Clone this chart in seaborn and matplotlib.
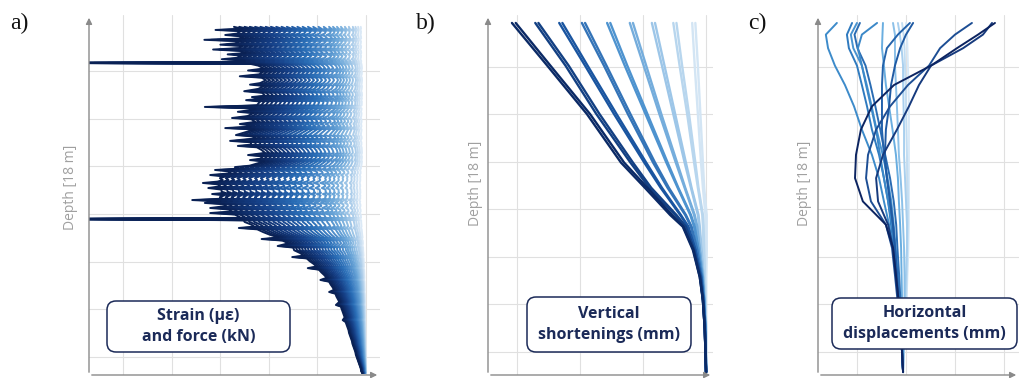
import numpy as np
import pandas as pd
import matplotlib
matplotlib.use('Agg')
import matplotlib.pyplot as plt
import seaborn as sns
from matplotlib.patches import FancyBboxPatch
from matplotlib.transforms import IdentityTransform

sns.set_style('white')
plt.rcParams['font.family'] = ['Open Sans', 'DejaVu Sans']

W, H = 1019, 378

# ---------------- a) strain profiles (ue) ----------------
# fibre readings at the highest load step: depth (m) and strain (ue)
strain_depth = [
    0.20, 0.30, 0.36, 0.42, 0.55, 0.62, 0.68, 0.80, 0.87, 0.94, 1.05, 1.12, 1.19, 1.30, 1.37,
    1.44, 1.55, 1.62, 1.69, 1.80, 1.87, 1.94, 2.02, 2.06, 2.10,
    2.20, 2.35, 2.45, 2.52, 2.65, 2.75, 2.82, 2.95, 3.10, 3.18, 3.25, 3.40, 3.52, 3.60, 3.75,
    3.82, 3.90, 3.98, 4.05, 4.25, 4.33, 4.41,
    4.50, 4.58, 4.65, 4.80, 4.90, 4.97, 5.10, 5.21, 5.28, 5.35, 5.42, 5.49, 5.60, 5.78, 5.85,
    5.95, 6.08, 6.15, 6.27, 6.34, 6.41,
    6.55, 6.70, 6.81, 6.88, 7.00, 7.07, 7.14, 7.25,
    7.36, 7.43, 7.51, 7.58, 7.65, 7.75, 7.84, 7.92, 8.00, 8.10, 8.18, 8.25, 8.32, 8.42, 8.51,
    8.59, 8.70, 8.76, 8.82, 8.89, 8.98, 9.06, 9.13, 9.20, 9.28, 9.35, 9.44, 9.54, 9.62, 9.72,
    9.80, 9.88, 9.96, 10.05, 10.11, 10.17,
    10.26, 10.40, 10.50, 10.57, 10.64, 10.78, 10.92, 11.06, 11.14, 11.22, 11.36, 11.50, 11.58,
    11.72, 11.86, 12.00, 12.07, 12.14, 12.28, 12.42, 12.56, 12.64, 12.72, 12.86, 13.00, 13.14,
    13.25, 13.34, 13.48, 13.62, 13.76, 13.87, 13.96, 14.10, 14.24, 14.38, 14.54, 14.62, 14.76,
    14.90, 15.04, 15.18, 15.32, 15.42, 15.56, 15.70, 15.84, 15.98, 16.12, 16.26, 16.40, 16.54,
    16.68, 16.82, 16.96, 17.10, 17.24, 17.38, 17.52, 17.66, 17.80, 17.94, 18.05,
]
strain_max = [
    -272, -255, -310, -258, -266, -290, -262, -250, -333, -258, -270, -300, -255, -262, -315,
    -260, -248, -285, -256, -266, -297, -250, -250, -700, -240,
    -222, -210, -243, -212, -220, -260, -215, -206, -218, -239, -210, -222, -251, -214, -208,
    -235, -212, -247, -218, -225, -332, -228,
    -240, -264, -232, -244, -276, -236, -228, -260, -240, -238, -290, -230, -244, -268, -234,
    -226, -280, -238, -236, -264, -225,
    -215, -208, -243, -212, -218, -239, -210, -225,
    -240, -270, -262, -311, -284, -278, -321, -290, -301, -295, -306, -336, -305, -300, -325,
    -298, -297, -290, -317, -292, -301, -296, -358, -300, -332, -292, -288, -321, -282, -276,
    -321, -270, -264, -258, -700, -252,
    -250, -236, -230, -262, -224, -212, -198, -180, -215, -172, -160, -182, -150,
    -148, -136, -128, -152, -122, -116, -108, -102, -120, -97, -92, -86, -81,
    -94, -76, -73, -69, -66, -76, -63, -61, -58, -55, -62, -52, -50,
    -48, -46, -44, -48, -42, -40, -38, -36, -35, -33, -31, -29, -28,
    -26, -24, -22, -21, -19, -17, -15, -13, -11, -10, -8,
]
# load step of each profile relative to the highest one
load_ratio = [1.0, 0.96, 0.92, 0.88, 0.84, 0.80, 0.76, 0.72, 0.68, 0.64, 0.60, 0.56,
              0.52, 0.48, 0.44, 0.40, 0.36, 0.32, 0.28, 0.25, 0.22, 0.19, 0.16, 0.13,
              0.10, 0.08, 0.06, 0.04]

# ---------------- b) vertical shortenings ----------------
short_depth = [0, 2.2, 4.7, 7.2, 8.5, 9.9, 10.5, 11.7, 13.1, 14.3, 15.8, 18.0]
short_lines = [
    [-30.8, -25.2, -18.9, -13.5, -9.7, -5.7, -3.7, -2.1, -1.0, -0.5, -0.2, 0.0],
    [-30.2, -24.7, -18.4, -13.0, -9.3, -5.4, -3.6, -2.0, -1.0, -0.5, -0.2, 0.0],
    [-27.1, -22.3, -17.4, -12.0, -9.0, -4.9, -3.3, -1.9, -0.9, -0.5, -0.2, 0.0],
    [-26.6, -21.8, -16.9, -11.6, -8.7, -4.7, -3.2, -1.9, -0.9, -0.5, -0.2, 0.0],
    [-23.3, -19.2, -14.6, -9.8, -7.2, -4.1, -2.9, -1.7, -0.8, -0.4, -0.2, 0.0],
    [-22.8, -18.8, -14.2, -9.5, -7.0, -4.0, -2.8, -1.7, -0.8, -0.4, -0.2, 0.0],
    [-19.7, -16.2, -12.4, -8.4, -6.1, -3.3, -2.4, -1.5, -0.7, -0.4, -0.1, 0.0],
    [-19.2, -15.8, -12.0, -8.1, -5.9, -3.2, -2.3, -1.4, -0.7, -0.4, -0.1, 0.0],
    [-15.7, -12.9, -9.6, -6.3, -4.5, -2.5, -1.9, -1.2, -0.6, -0.3, -0.1, 0.0],
    [-15.2, -12.5, -9.3, -6.1, -4.4, -2.4, -1.8, -1.2, -0.6, -0.3, -0.1, 0.0],
    [-12.1, -9.9, -7.4, -4.8, -3.4, -1.9, -1.5, -1.0, -0.5, -0.3, -0.1, 0.0],
    [-11.6, -9.5, -7.1, -4.6, -3.3, -1.8, -1.4, -1.0, -0.5, -0.3, -0.1, 0.0],
    [-8.6, -7.0, -5.2, -3.4, -2.4, -1.3, -1.1, -0.8, -0.4, -0.2, -0.1, 0.0],
    [-8.1, -6.6, -4.9, -3.2, -2.3, -1.2, -1.0, -0.7, -0.4, -0.2, -0.1, 0.0],
    [-5.2, -4.2, -3.0, -1.9, -1.3, -0.6, -0.5, -0.4, -0.2, -0.1, 0.0, 0.0],
    [-4.7, -3.8, -2.7, -1.7, -1.2, -0.5, -0.4, -0.3, -0.2, -0.1, 0.0, 0.0],
    [-2.2, -1.8, -1.3, -0.8, -0.5, -0.1, -0.1, 0.0, 0.0, 0.0, 0.0, 0.0],
    [-1.7, -1.3, -0.9, -0.5, -0.3, 0.1, 0.1, 0.1, 0.0, 0.0, 0.0, 0.0],
]

# ---------------- c) horizontal displacements ----------------
disp_depth = [0, 0.6, 1.3, 2.2, 3.2, 4.3, 5.5, 6.8, 8.0, 9.2, 10.4, 11.6, 13.0, 14.5, 16.0, 18.0]
disp_lines = {
    'L5': [0.0, 0.04, 0.06, 0.08, 0.10, 0.12, 0.12, 0.12, 0.12, 0.12, 0.12, 0.10, 0.06, 0.02, -0.04, -0.12],
    'L4': [-0.16, -0.10, -0.06, -0.04, -0.02, 0.0, 0.02, 0.04, 0.06, 0.08, 0.08, 0.06, 0.04, 0.0, -0.06, -0.12],
    'L3': [-0.33, -0.25, -0.18, -0.12, -0.12, -0.10, -0.08, -0.08, -0.04, 0.0, 0.04, 0.04, 0.0, -0.04, -0.08, -0.12],
    'L2': [-0.53, -0.45, -0.45, -0.45, -0.41, -0.37, -0.33, -0.29, -0.22, -0.16, -0.12, -0.08, -0.06, -0.06, -0.08, -0.12],
    'L1': [-0.94, -0.96, -0.98, -0.90, -0.82, -0.69, -0.55, -0.41, -0.33, -0.29, -0.24, -0.20, -0.18, -0.16, -0.14, -0.12],
    'M1': [-2.82, -3.27, -3.18, -2.90, -2.49, -2.12, -1.80, -1.39, -1.10, -0.90, -0.69, -0.53, -0.41, -0.29, -0.20, -0.12],
    'M2': [-2.20, -2.41, -2.33, -2.00, -1.80, -1.59, -1.39, -1.10, -0.90, -0.73, -0.61, -0.49, -0.37, -0.29, -0.20, -0.12],
    'M3': [-2.00, -2.25, -2.15, -1.80, -1.60, -1.40, -1.20, -0.95, -0.75, -0.60, -0.50, -0.42, -0.33, -0.25, -0.18, -0.12],
    'M4': [-1.88, -2.10, -1.98, -1.65, -1.45, -1.25, -1.05, -0.85, -0.65, -0.50, -0.40, -0.35, -0.28, -0.22, -0.16, -0.12],
    'M5': [-1.18, -1.80, -1.96, -1.80, -1.63, -1.43, -1.22, -1.06, -0.90, -0.73, -0.57, -0.45, -0.37, -0.29, -0.20, -0.12],
    'M6': [0.16, -0.33, -0.78, -0.94, -0.98, -0.98, -0.98, -0.90, -0.78, -0.65, -0.53, -0.45, -0.37, -0.29, -0.20, -0.12],
    'M7': [0.29, 0.0, -0.24, -0.45, -0.61, -0.69, -0.82, -0.86, -0.78, -0.65, -0.53, -0.45, -0.37, -0.29, -0.20, -0.12],
    'D3': [2.69, 2.00, 1.39, 0.94, 0.08, -0.65, -1.22, -1.55, -1.63, -1.43, -0.82, -0.57, -0.45, -0.33, -0.20, -0.12],
    'D2': [3.51, 3.14, 2.33, 1.02, 0.53, 0.12, -0.37, -0.94, -1.22, -1.14, -0.73, -0.53, -0.41, -0.29, -0.20, -0.12],
    'D1': [3.63, 2.94, 2.08, 1.02, -0.49, -1.39, -1.84, -2.04, -2.08, -1.76, -0.82, -0.53, -0.41, -0.29, -0.20, -0.12],
}
disp_colors = ['#d8e9f7', '#c2ddf2', '#a8cfee', '#8bc0e8', '#6aaee0', '#3d8bca', '#2f7abf',
               '#4893d0', '#2a6cb3', '#3b88c8', '#2463ab', '#1f5aa3', '#1d4e94', '#163a7d', '#0c2461']

# ---------------- long tables ----------------
rows = []
for k, r in enumerate(load_ratio):
    for d, v in zip(strain_depth, strain_max):
        rows.append((f's{k}', d, v * r))
df_a = pd.DataFrame(rows, columns=['line', 'depth', 'value'])
order_a = [f's{k}' for k in range(len(load_ratio))][::-1]
pal_a = sns.blend_palette(['#0a2154', '#153f86', '#2b6fb8', '#6fa9da', '#dbe9f6'], len(load_ratio))[::-1]

rows = []
for k, vals in enumerate(short_lines):
    for d, v in zip(short_depth, vals):
        rows.append((f'b{k}', d, v))
df_b = pd.DataFrame(rows, columns=['line', 'depth', 'value'])
order_b = [f'b{k}' for k in range(len(short_lines))][::-1]
pair_cols = sns.blend_palette(['#0b2a66', '#1a55a0', '#4d93cf', '#9cc6e8', '#d3e5f4'], len(short_lines) // 2)
pal_b = [pair_cols[k // 2] for k in range(len(short_lines))][::-1]

rows = []
for name, vals in disp_lines.items():
    for d, v in zip(disp_depth, vals):
        rows.append((name, d, v))
df_c = pd.DataFrame(rows, columns=['line', 'depth', 'value'])
order_c = list(disp_lines.keys())

# ---------------- figure ----------------
fig = plt.figure(figsize=(W / 100, H / 100), dpi=100)


def make_axes(left_px, right_px, xlim, gx, gy):
    ax = fig.add_axes([left_px / W, 3 / H, (right_px - left_px) / W, 360 / H])
    ax.set_xlim(*xlim)
    ax.set_ylim(18.15, -0.41)
    ax.set_xticks(gx)
    ax.set_yticks(gy)
    ax.grid(True, color='#e0e0e0', lw=0.8)
    ax.tick_params(length=0, labelbottom=False, labelleft=False)
    for s in ax.spines.values():
        s.set_visible(False)
    arrow = dict(arrowstyle='-|>', color='#8a8a8a', lw=1, mutation_scale=9)
    ax.annotate('', xy=(0, 1), xytext=(0, 0), xycoords='axes fraction',
                arrowprops=arrow, annotation_clip=False)
    ax.annotate('', xy=(1, 0), xytext=(0, 0), xycoords='axes fraction',
                arrowprops=arrow, annotation_clip=False)
    return ax


ax_a = make_axes(89, 380, (-570.6, 28.8), [-500, -400, -300, -200, -100, 0],
                 [2.5, 4.95, 7.4, 9.85, 12.3, 14.75, 17.2])
sns.lineplot(data=df_a, x='value', y='depth', hue='line', hue_order=order_a, palette=pal_a,
             sort=False, estimator=None, legend=False, lw=1.4, ax=ax_a)

ax_b = make_axes(488, 713, (-34.6, 1.1), [-30, -20, -10, 0],
                 [2.25, 4.7, 7.15, 9.6, 12.05, 14.5, 16.95])
sns.lineplot(data=df_b, x='value', y='depth', hue='line', hue_order=order_b, palette=pal_b,
             sort=False, estimator=None, legend=False, lw=1.7, ax=ax_b)

ax_c = make_axes(818, 1019, (-3.59, 4.61), [-2, 0, 2, 4],
                 [2.25, 4.7, 7.15, 9.6, 12.05, 14.5, 16.95])
sns.lineplot(data=df_c, x='value', y='depth', hue='line', hue_order=order_c, palette=disp_colors,
             sort=False, estimator=None, legend=False, lw=1.4, ax=ax_c)

for ax in (ax_a, ax_b, ax_c):
    ax.set_xlabel('')
    ax.set_ylabel('')

# depth labels
for x, y in [(70.5, 187), (475.5, 183), (804.5, 183)]:
    fig.text(x / W, 1 - y / H, 'Depth [18 m]', rotation=90, ha='center', va='center',
             fontsize=10, color='#a0a0a0')

# ---------------- caption boxes and panel letters ----------------
navy = '#1b2a58'
boxes = [
    (107, 290, 301, 352, 'Strain (\u00b5\u03b5)\nand force (kN)'),
    (527, 691, 297, 352, 'Vertical\nshortenings (mm)'),
    (832, 1017, 298, 349, 'Horizontal\ndisplacements (mm)'),
]
for x0, x1, y0, y1, txt in boxes:
    fig.add_artist(FancyBboxPatch((x0, H - y1), x1 - x0, y1 - y0,
                                  boxstyle='round,pad=0,rounding_size=9',
                                  transform=IdentityTransform(), fc='white', ec=navy, lw=1.1, zorder=5))
    fig.text((x0 + x1) / 2 / W, 1 - (y0 + y1) / 2 / H, txt, ha='center', va='center',
             fontsize=11.5, fontweight='bold', color=navy, linespacing=1.45, zorder=6)

for x, letter in [(10, 'a)'), (416, 'b)'), (748, 'c)')]:
    fig.text(x / W, 1 - 23 / H, letter, ha='left', va='center', fontsize=17,
             family=['Liberation Serif', 'DejaVu Serif'], color='#111111')

fig.savefig('out.png', dpi=100)
